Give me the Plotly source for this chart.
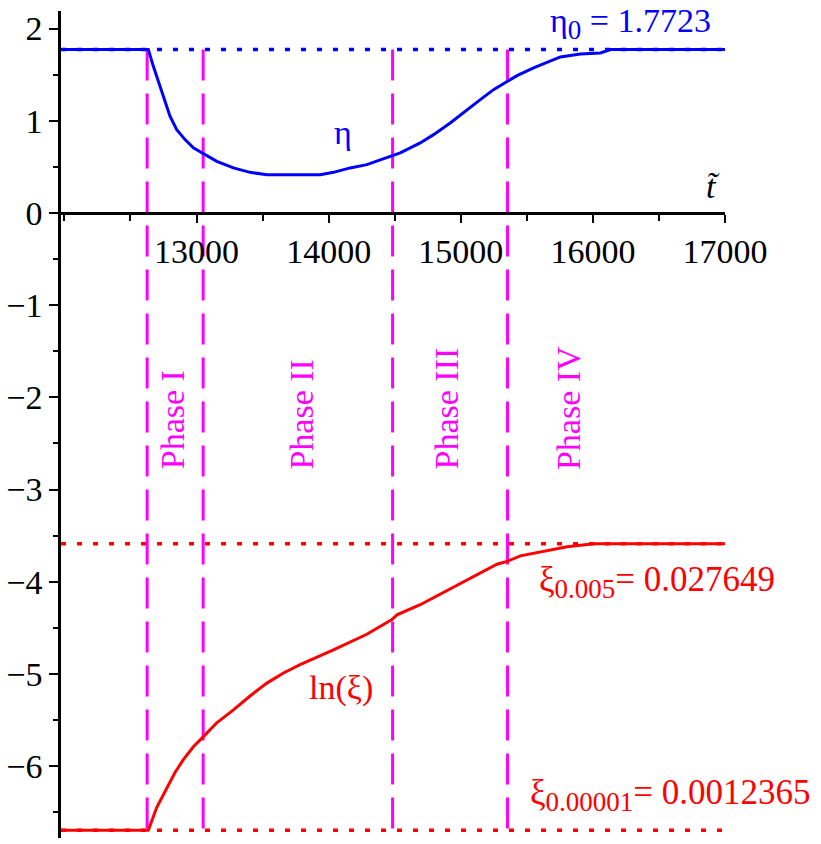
import plotly.graph_objects as go

# --- data -------------------------------------------------------------
t_start, t_end = 11974, 17000

t_eta = [11974, 12635, 12673, 12723, 12761, 12799, 12850, 12913, 12976, 13052,
         13153, 13279, 13405, 13532, 13936, 14036, 14163, 14289, 14415, 14491,
         14542, 14693, 14794, 14920, 15047, 15148, 15248, 15350, 15426, 15551,
         15653, 15754, 15905, 16057, 16133, 17000]
eta = [1.7723, 1.7723, 1.59, 1.373, 1.193, 1.048, 0.903, 0.795, 0.705, 0.643,
       0.56, 0.488, 0.44, 0.415, 0.415, 0.44, 0.488, 0.524, 0.586, 0.632,
       0.651, 0.759, 0.849, 0.976, 1.12, 1.229, 1.337, 1.427, 1.489, 1.573,
       1.633, 1.692, 1.724, 1.735, 1.7723, 1.7723]

t_xi = [11974, 12635, 12698, 12774, 12837, 12900, 12976, 13052, 13153, 13279,
        13405, 13532, 13658, 13784, 14036, 14289, 14479, 14517, 14693, 15274,
        15350, 15451, 15602, 15805, 16006, 17000]
ln_xi = [-6.6955, -6.6955, -6.45, -6.24, -6.07, -5.93, -5.79, -5.68, -5.53, -5.39,
         -5.24, -5.10, -4.99, -4.90, -4.74, -4.57, -4.41, -4.36, -4.25, -3.81,
         -3.78, -3.72, -3.68, -3.62, -3.588, -3.588]

eta0 = 1.7723
ln_xi_high = -3.588    # ln(0.027649)
ln_xi_low = -6.6955    # ln(0.0012365)

t_phase = [12626, 13050, 14484, 15354]
phase_names = ["Phase I", "Phase II", "Phase III", "Phase IV"]
phase_label_t = [12815, 13798, 14895, 15815]

x_major = [13000, 14000, 15000, 16000, 17000]
x_major_text = ["13000", "14000", "15000", "16000", "17000"]
x_minor = [12000, 12500, 13500, 14500, 15500, 16500]
y_major = [-6, -5, -4, -3, -2, -1, 0, 1, 2]
y_minor = [-6.5, -5.5, -4.5, -3.5, -2.5, -1.5, -0.5, 0.5, 1.5]

y_lo, y_hi = -6.78, 2.19

# --- styling ----------------------------------------------------------
FONT = "Liberation Serif"
FS = 34
BLUE, RED, MAGENTA = "#0000ff", "#ff0000", "#ff00ff"

fig = go.Figure()

# phase boundaries
for tp in t_phase:
    fig.add_trace(go.Scatter(x=[tp, tp], y=[eta0, ln_xi_low], mode="lines",
                             line=dict(color=MAGENTA, width=3, dash="31px,13px"),
                             hoverinfo="skip", showlegend=False))

# curves
fig.add_trace(go.Scatter(x=t_eta, y=eta, mode="lines",
                         line=dict(color=BLUE, width=3), showlegend=False))
fig.add_trace(go.Scatter(x=t_xi, y=ln_xi, mode="lines",
                         line=dict(color=RED, width=3), showlegend=False))

# reference levels
for lvl, col in [(eta0, BLUE), (ln_xi_high, RED), (ln_xi_low, RED)]:
    fig.add_trace(go.Scatter(x=[t_start, t_end], y=[lvl, lvl], mode="lines",
                             line=dict(color=col, width=3.5, dash="5px,11px"),
                             hoverinfo="skip", showlegend=False))

# phase labels
for name, tx in zip(phase_names, phase_label_t):
    fig.add_annotation(x=tx, y=-2.806, text=name, textangle=-90,
                       xanchor="center", yanchor="bottom", showarrow=False,
                       font=dict(family=FONT, size=FS, color=MAGENTA))

SUB = "<sub><span style='font-size:27px'>{}</span></sub>"

fig.add_annotation(x=15662, y=2.05, text="η" + SUB.format("0") + " = 1.7723",
                   xanchor="left", yanchor="middle", showarrow=False,
                   font=dict(family=FONT, size=FS, color=BLUE))
fig.add_annotation(x=14111, y=0.87, text="η", showarrow=False,
                   font=dict(family=FONT, size=FS, color=BLUE))
fig.add_annotation(x=16910, y=0.285, text="<i>t̃</i>", showarrow=False,
                   font=dict(family=FONT, size=FS, color="black"))
fig.add_annotation(x=14097, y=-5.149, text="ln(ξ)", showarrow=False,
                   font=dict(family=FONT, size=FS, color=RED))
fig.add_annotation(x=15578, y=-4.0, text="ξ" + SUB.format("0.005") + "= 0.027649",
                   xanchor="left", yanchor="middle", showarrow=False,
                   font=dict(family=FONT, size=FS + 1, color=RED))
fig.add_annotation(x=15510, y=-6.31, text="ξ" + SUB.format("0.00001") + "= 0.0012365",
                   xanchor="left", yanchor="middle", showarrow=False,
                   font=dict(family=FONT, size=FS + 1, color=RED))

x_pos = (0 - y_lo) / (y_hi - y_lo)

fig.update_layout(
    width=821, height=844, autosize=False,
    margin=dict(l=61, r=96, t=11, b=6),
    paper_bgcolor="white", plot_bgcolor="white",
    font=dict(family=FONT, size=FS, color="black"),
    xaxis=dict(range=[t_start, t_end], anchor="free", position=x_pos,
               showgrid=False, zeroline=False, showline=True,
               linecolor="black", linewidth=2.5,
               tickmode="array", tickvals=x_major, ticktext=x_major_text,
               ticks="outside", ticklen=8, tickwidth=2, tickcolor="black",
               minor=dict(tickvals=x_minor, ticks="outside", ticklen=6,
                          tickwidth=2, tickcolor="black"),
               tickfont=dict(family=FONT, size=FS, color="black")),
    yaxis=dict(range=[y_lo, y_hi], showgrid=False, zeroline=False,
               showline=True, linecolor="black", linewidth=2.5,
               tickmode="array", tickvals=y_major,
               ticks="outside", ticklen=9, tickwidth=2, tickcolor="black",
               minor=dict(tickvals=y_minor, ticks="outside", ticklen=5,
                          tickwidth=2, tickcolor="black"),
               tickfont=dict(family=FONT, size=FS, color="black")),
)

fig.write_html("out.html")
